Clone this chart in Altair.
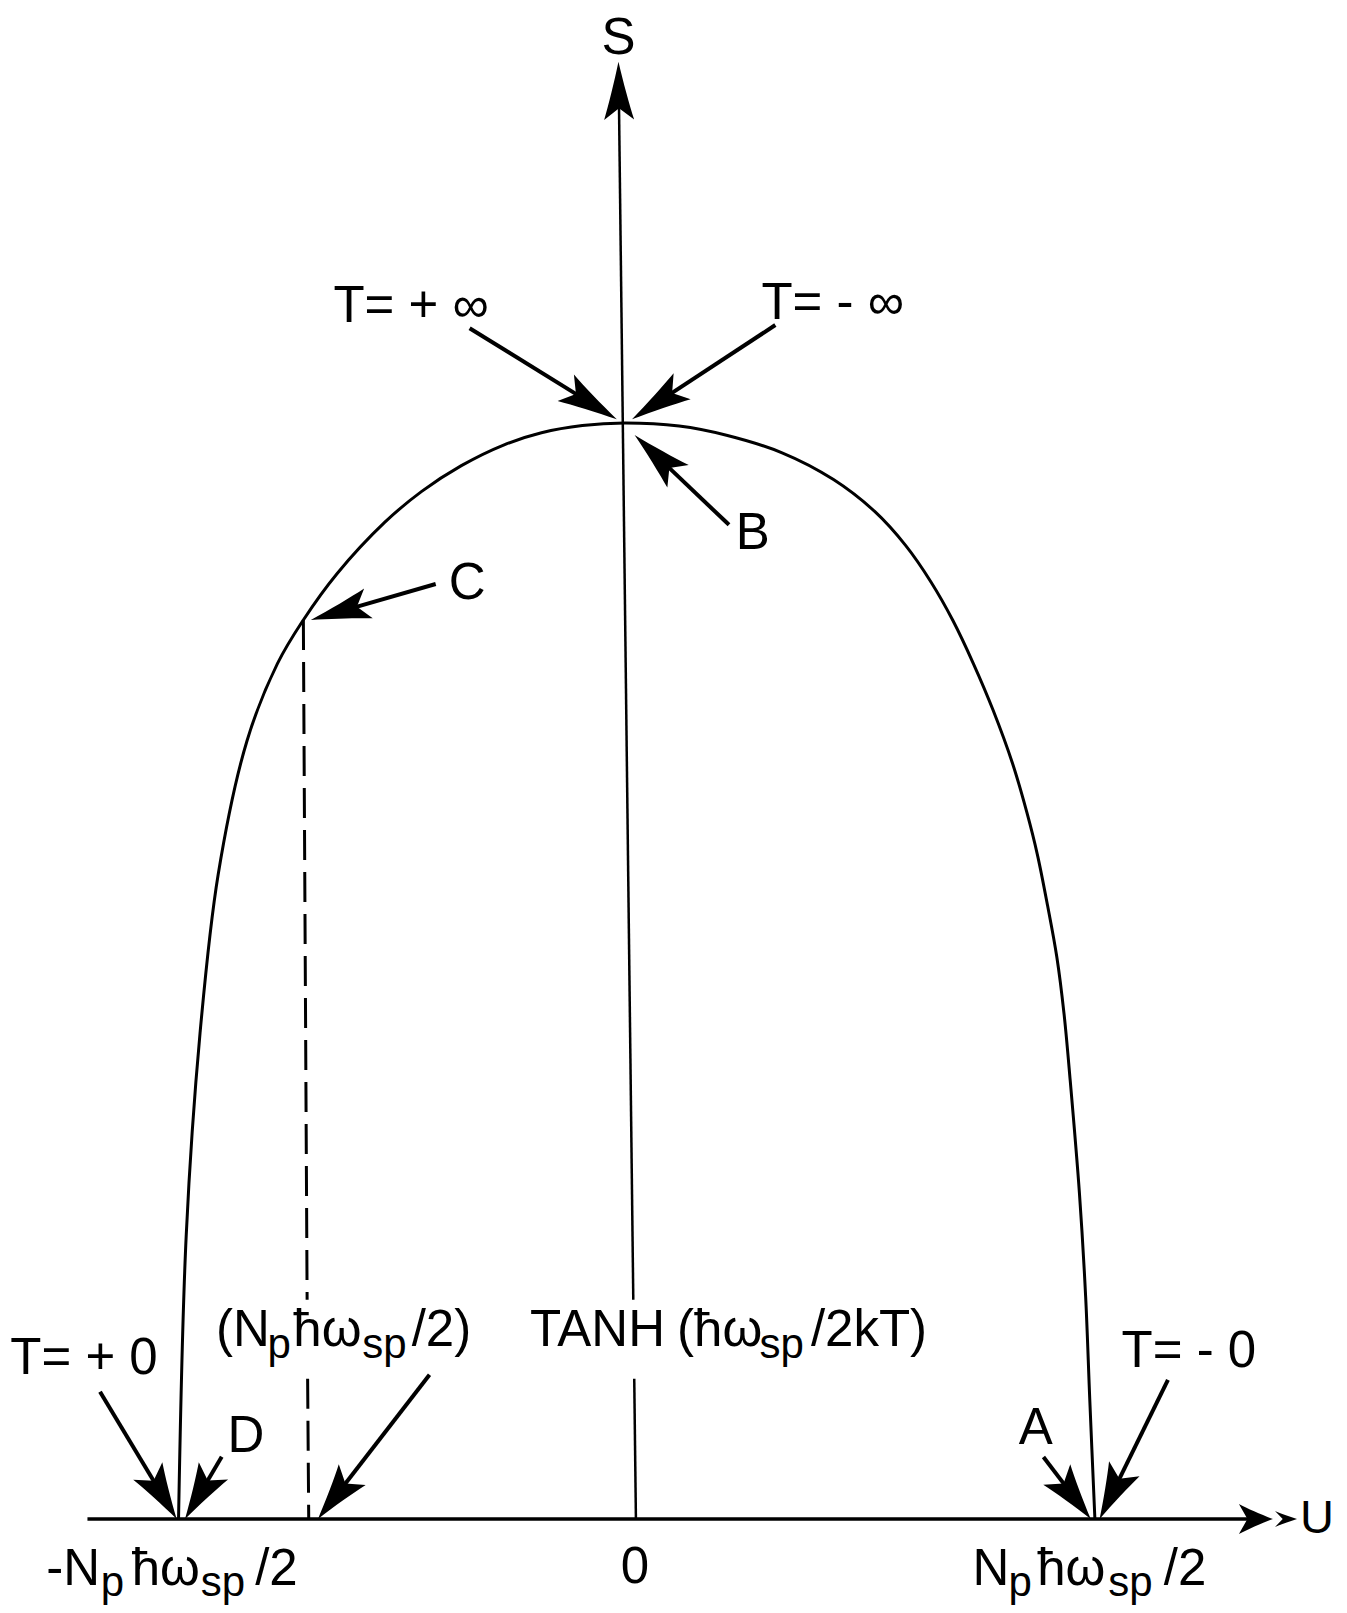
import math
import altair as alt
import pandas as pd

# ---------------- data (U in units of Np*hbar*w_sp/2, S normalised to its maximum) -------------
curve_u = [-0.9999, -0.9831, -0.9530, -0.9135, -0.8506, -0.7841, -0.7275, -0.6541, -0.5496,
           -0.4692, -0.3827, -0.2906, -0.2078, -0.1186, -0.0264,
           0.0927, 0.1960, 0.3173, 0.4295, 0.5194, 0.5868, 0.6429, 0.6901, 0.7350, 0.7777,
           0.8203, 0.8518, 0.8742, 0.8967, 0.9169, 0.9326, 0.9461, 0.9663, 0.9798, 0.9888, 1.0000]
curve_s = [0.0000, 0.2593, 0.4433, 0.5879, 0.7099, 0.7804, 0.8203, 0.8625, 0.9095,
           0.9376, 0.9611, 0.9799, 0.9911, 0.9977, 1.0000,
           0.9972, 0.9888, 0.9728, 0.9484, 0.9193, 0.8883, 0.8545, 0.8198, 0.7803, 0.7381,
           0.6893, 0.6442, 0.6067, 0.5597, 0.5128, 0.4611, 0.4001, 0.2968, 0.2029, 0.1090, 0.0000]

# point C projected on the U axis (dashed line), broken where the formula label sits
dashed_u = [-0.7275, -0.7193, -0.7182, -0.7158]
dashed_s = [0.8203, 0.200, 0.128, 0.000]

# S axis (slightly tilted as drawn), broken behind the formula label
s_axis_u = [-0.0017, -0.0398]
s_axis_s = [0.000, 1.3296]
s_axis_gap = [0.128, 0.200]
# U axis: start, tip of first head, tip of second head
u_axis_u = [-1.1987, 1.3885, 1.4411]

# annotation arrows: tail -> tip
arrow_names = ["T=+inf", "T=-inf", "B", "C", "T=+0", "D", "tanh", "A", "T=-0"]
arrow_tail_u = [-0.3646, 0.3026, 0.2014, -0.4387, -1.1713, -0.9057, -0.4522, 0.8877, 1.1594]
arrow_tail_s = [1.0865, 1.0894, 0.9071, 0.8531, 0.1161, 0.0568, 0.1316, 0.0565, 0.1269]
arrow_tip_u = [-0.0435, -0.0102, -0.0046, -0.7113, -1.0040, -0.9858, -0.6956, 0.9910, 1.0103]
arrow_tip_s = [1.0034, 1.0034, 0.9891, 0.8203, 0.0, 0.0, 0.0, 0.0, 0.0]

# text pieces: text, u, s, kind ("main" / "sub" / "center")
label_text = ["S", "T= + ∞", "T= - ∞", "B", "C", "D", "A", "T= + 0", "T= - 0", "U", "0",
              "(N", "p", "ħω", "sp", "/2)", "TANH", "(ħω", "sp", "/2kT)",
              "-N", "p", "ħω", "sp", "/2",
              "N", "p", "ħω", "sp", "/2"]
label_u = [-0.0399, -0.6619, 0.2723, 0.2161, -0.4104, -0.8933, 0.8338, -1.3671, 1.0583, 1.4476, -0.0039,
           -0.9180, -0.8057, -0.7495, -0.5991, -0.4912, -0.2330, 0.0882, 0.2678, 0.3802,
           -1.2885, -1.1695, -1.1021, -0.9516, -0.8326,
           0.7327, 0.8113, 0.8742, 1.0291, 1.1504]
label_s = [1.3370, 1.0921, 1.0949, 0.8846, 0.8395, 0.0612, 0.0687, 0.1325, 0.1391, -0.0130, -0.0580,
           0.1578, 0.1465, 0.1578, 0.1465, 0.1578, 0.1578, 0.1578, 0.1465, 0.1578,
           -0.0600, -0.0700, -0.0600, -0.0700, -0.0600,
           -0.0600, -0.0700, -0.0600, -0.0700, -0.0600]
label_kind = ["center", "main", "main", "main", "main", "main", "main", "main", "main", "main", "center",
              "main", "sub", "main", "sub", "main", "main", "main", "sub", "main",
              "main", "sub", "main", "sub", "main",
              "main", "sub", "main", "sub", "main"]

# ---------------- geometry of the view ----------------
W, H = 1331, 1597
KX, KY = 458.2, 1096.0          # pixels per data unit
XMIN = -1.37211
XMAX = XMIN + W / KX
YMAX = 1.37865
YMIN = YMAX - H / KY
xs = alt.Scale(domain=[XMIN, XMAX], nice=False, zero=False)
ys = alt.Scale(domain=[YMIN, YMAX], nice=False, zero=False)
FONT = "Liberation Sans"


def arrow(tail, tip, L, Wd, notch=1.6):
    dxp = (tip[0] - tail[0]) * KX
    dyp = -(tip[1] - tail[1]) * KY
    n = math.hypot(dxp, dyp)
    ang = math.degrees(math.atan2(dxp, -dyp)) % 360
    back = 0.7 * L
    end_u = tip[0] - (dxp / n) * back / KX
    end_s = tip[1] + (dyp / n) * back / KY
    hw = Wd / L
    path = (f"M0,0 C{hw*0.3:.3f},0.7 {hw*0.7:.3f},1.5 {hw:.3f},2 L0,{notch} "
            f"L{-hw:.3f},2 C{-hw*0.7:.3f},1.5 {-hw*0.3:.3f},0.7 0,0 Z")
    return dict(u=tip[0], s=tip[1], angle=ang, size=L * L, path=path), (end_u, end_s)


heads = []
shafts = []
for i in range(len(arrow_names)):
    tail = (arrow_tail_u[i], arrow_tail_s[i])
    tip = (arrow_tip_u[i], arrow_tip_s[i])
    low = arrow_tip_s[i] == 0.0
    L, Wd = (56, 34) if low else (60, 31)
    h, end = arrow(tail, tip, L, Wd)
    heads.append(h)
    shafts.append(dict(u=tail[0], s=tail[1], u2=end[0], s2=end[1], w=4))

# S axis
s_tail = (s_axis_u[0], s_axis_s[0])
s_tip = (s_axis_u[1], s_axis_s[1])
h, end = arrow(s_tail, s_tip, 58, 30)
heads.append(h)


def s_axis_u_at(sv):
    return s_axis_u[0] + (s_axis_u[1] - s_axis_u[0]) * sv / s_axis_s[1]


shafts.append(dict(u=s_tail[0], s=0.0, u2=s_axis_u_at(s_axis_gap[0]), s2=s_axis_gap[0], w=2.5))
shafts.append(dict(u=s_axis_u_at(s_axis_gap[1]), s=s_axis_gap[1], u2=end[0], s2=end[1], w=2.5))

# U axis with a double head
h, end = arrow((u_axis_u[0], 0.0), (u_axis_u[1], 0.0), 34, 30, notch=1.5)
heads.append(h)
h2, _ = arrow((u_axis_u[1], 0.0), (u_axis_u[2], 0.0), 22, 16, notch=1.3)
heads.append(h2)
shafts.append(dict(u=u_axis_u[0], s=0.0, u2=end[0], s2=0.0, w=3.5))

curve_df = pd.DataFrame({"u": curve_u, "s": curve_s, "i": list(range(len(curve_u)))})
dash_df = pd.DataFrame({"u": [dashed_u[0], dashed_u[2]], "s": [dashed_s[0], dashed_s[2]],
                        "u2": [dashed_u[1], dashed_u[3]], "s2": [dashed_s[1], dashed_s[3]]})
shaft_df = pd.DataFrame(shafts)
head_df = pd.DataFrame(heads)
lab_df = pd.DataFrame({"t": label_text, "u": label_u, "s": label_s, "k": label_kind})
lab_df["fs"] = [42 if k == "sub" else (47 if t == "U" else 51) for t, k in zip(label_text, label_kind)]


def X(f="u"):
    return alt.X(f"{f}:Q", scale=xs, axis=None)


def Y(f="s"):
    return alt.Y(f"{f}:Q", scale=ys, axis=None)


curve = alt.Chart(curve_df).mark_line(color="black", strokeWidth=3, interpolate="catmull-rom").encode(
    x=X(), y=Y(), order="i:Q")

dashed = alt.Chart(dash_df).mark_rule(color="black", strokeWidth=3, strokeDash=[30, 12]).encode(
    x=X(), y=Y(), x2="u2:Q", y2="s2:Q")

lines = alt.Chart(shaft_df).mark_rule(color="black", strokeCap="butt").encode(
    x=X(), y=Y(), x2="u2:Q", y2="s2:Q", strokeWidth=alt.StrokeWidth("w:Q", scale=None))

arrowheads = alt.Chart(head_df).mark_point(filled=True, color="black", opacity=1, strokeWidth=0).encode(
    x=X(), y=Y(),
    shape=alt.Shape("path:N", scale=None),
    size=alt.Size("size:Q", scale=None),
    angle=alt.Angle("angle:Q", scale=None))

text_left = alt.Chart(lab_df).transform_filter("datum.k != 'center'").mark_text(
    align="left", baseline="alphabetic", font=FONT, color="black").encode(
    x=X(), y=Y(), text="t:N", size=alt.Size("fs:Q", scale=None))

text_center = alt.Chart(lab_df).transform_filter("datum.k == 'center'").mark_text(
    align="center", baseline="alphabetic", font=FONT, color="black").encode(
    x=X(), y=Y(), text="t:N", size=alt.Size("fs:Q", scale=None))

chart = alt.layer(curve, dashed, lines, arrowheads, text_left, text_center).properties(
    width=W, height=H, padding=0,
    autosize=alt.AutoSizeParams(type="none"),
    background="white",
).configure_view(stroke=None)

chart.save("out.html", embed_options={"renderer": "svg", "actions": False})
